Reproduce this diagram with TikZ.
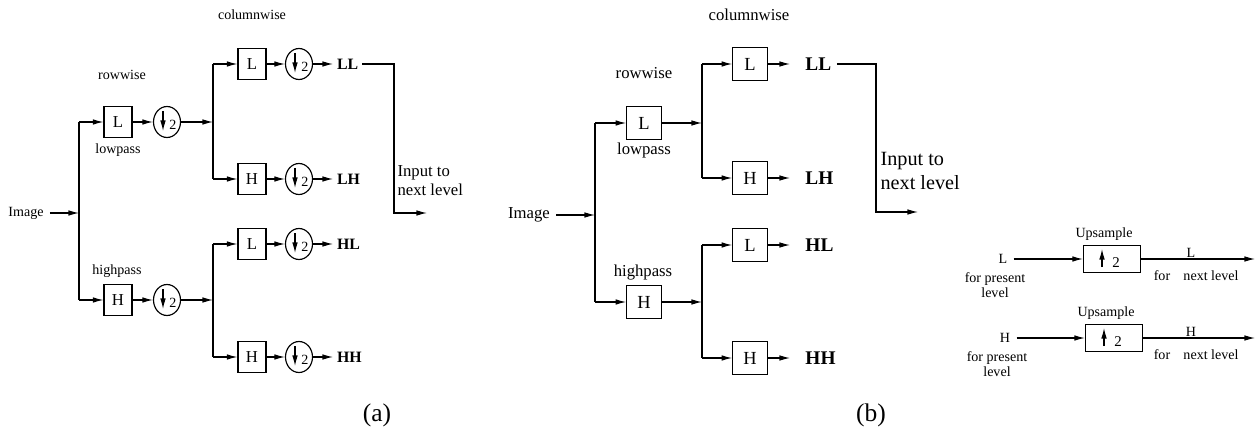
\documentclass[tikz,border=0pt]{standalone}
\usepackage{fontspec}
\setmainfont{Liberation Serif}
\usetikzlibrary{arrows.meta}
\usetikzlibrary{shapes.geometric}

\begin{document}
\begin{tikzpicture}[x=0.02cm,y=-0.02cm,line width=0.65pt,
  arr/.style={-{Latex[length=6pt,width=3.2pt]}},
  boxa/.style={draw,minimum width=0.56cm,minimum height=0.62cm,inner sep=0pt,font=\fontsize{9.5}{10}\selectfont},
  boxb/.style={draw,minimum width=0.69cm,minimum height=0.65cm,inner sep=0pt,font=\fontsize{10.5}{11}\selectfont},
  down/.style={draw,ellipse,minimum width=0.54cm,minimum height=0.62cm,inner sep=0pt},
  upbox/.style={draw,minimum width=1.14cm,minimum height=0.54cm,inner sep=0pt},
  txta/.style={font=\fontsize{8}{9}\selectfont},
  txtb/.style={font=\fontsize{9.5}{11}\selectfont},
  small/.style={font=\fontsize{8}{8.5}\selectfont},
  outa/.style={font=\fontsize{9}{10}\selectfont\bfseries,anchor=west,inner sep=2pt},
  outb/.style={font=\fontsize{11}{12}\selectfont\bfseries,anchor=west,inner sep=2.8pt},
  captxt/.style={font=\fontsize{14.5}{16}\selectfont}]

\useasboundingbox (0,0) rectangle (1255,439);

% (a)
\node[txta] (imgA) at (26,213) {Image};
\coordinate (jA) at (79,213);
\draw[arr] (imgA) -- (jA);
\foreach \Name/\Label/\Y in {La/L/122, Ha/H/300} {
    \node[boxa] (r\Name) at (118,\Y) {\Label};
    \node[down] (d\Name) at (167,\Y) {};
    \coordinate (s\Name) at (79,\Y);
    \coordinate (j\Name) at (213,\Y);
    \draw[arr] (s\Name) -- (r\Name);
    \draw[arr] (r\Name) -- (d\Name);
    \draw[arr] (d\Name) -- (j\Name);
}
\draw (sLa) -- (sHa);
\foreach \Name/\Label/\Out/\Y in {LLa/L/LL/64, LHa/H/LH/179, HLa/L/HL/244, HHa/H/HH/357} {
    \node[boxa] (c\Name) at (252,\Y) {\Label};
    \node[down] (e\Name) at (299,\Y) {};
    \node[outa] (o\Name) at (333,\Y) {\Out};
    \coordinate (t\Name) at (213,\Y);
    \draw[arr] (t\Name) -- (c\Name);
    \draw[arr] (c\Name) -- (e\Name);
    \draw[arr] (e\Name) -- (o\Name);
}
\draw (tLLa) -- (tLHa);
\draw (tHLa) -- (tHHa);
\foreach \Circ in {dLa, dHa, eLLa, eLHa, eHLa, eHHa} {
    \draw[arr] ([shift={(-4,-11)}]\Circ.center) -- ([shift={(-4,9)}]\Circ.center);
    \node[small,inner sep=0pt] at ([shift={(6,3)}]\Circ.center) {2};
}
\coordinate (nA2) at (394,213);
\coordinate (nA3) at (427,213);
\draw[arr] (oLLa.east) -| (nA2) -- (nA3);
\node[font=\fontsize{9.5}{10.8}\selectfont,align=left,anchor=north west,inner sep=0pt] (inA) at (397,165) {Input to\\next level};
\node[txta] (colA) at (252,15) {columnwise};
\node[txta] (rowA) at (122,75) {rowwise};
\node[txta] (lowA) at (118,150) {lowpass};
\node[txta] (highA) at (117,271) {highpass};
\node[captxt] (capA) at (377,415) {(a)};

% (b)
\node[txtb] (imgB) at (529,215) {Image};
\coordinate (jB) at (595,215);
\draw[arr] (imgB) -- (jB);
\foreach \Name/\Label/\Y in {Lb/L/123, Hb/H/302} {
    \node[boxb] (r\Name) at (644,\Y) {\Label};
    \coordinate (s\Name) at (595,\Y);
    \coordinate (j\Name) at (702,\Y);
    \draw[arr] (s\Name) -- (r\Name);
    \draw[arr] (r\Name) -- (j\Name);
}
\draw (sLb) -- (sHb);
\foreach \Name/\Label/\Out/\Y in {LLb/L/LL/64, LHb/H/LH/178, HLb/L/HL/245, HHb/H/HH/358} {
    \node[boxb] (c\Name) at (750,\Y) {\Label};
    \node[outb] (o\Name) at (800,\Y) {\Out};
    \coordinate (t\Name) at (702,\Y);
    \draw[arr] (t\Name) -- (c\Name);
    \draw[arr,shorten >=0.2cm] (c\Name) -- (o\Name);
}
\draw (tLLb) -- (tLHb);
\draw (tHLb) -- (tHHb);
\coordinate (nB2) at (876,212);
\coordinate (nB3) at (918,212);
\draw[arr] (oLLb.east) -| (nB2) -- (nB3);
\node[font=\fontsize{11.5}{13.6}\selectfont,align=left,anchor=north west,inner sep=0pt] (inB) at (880,152) {Input to\\next level};
\node[txtb] (colB) at (749,15) {columnwise};
\node[txtb] (rowB) at (644,73) {rowwise};
\node[txtb] (lowB) at (644,150) {lowpass};
\node[txtb] (highB) at (643,273) {highpass};
\node[captxt] (capB) at (871,415) {(b)};

% upsampling
\foreach \Name/\Y/\DX in {L/259/0, H/338/2} {
    \node[small] (in\Name) at (1003+\DX,\Y) {\Name};
    \node[small,align=center] (pr\Name) at (995+\DX,\Y+26) {for present\\level};
    \node[upbox] (up\Name) at (1112+\DX,\Y) {};
    \node[small] (us\Name) at (1104+\DX,\Y-25) {Upsample};
    \coordinate (ou\Name) at (1255,\Y);
    \draw[arr] (in\Name) -- (up\Name);
    \draw[arr] (up\Name) -- (ou\Name);
    \draw[arr] ([shift={(-10,8)}]up\Name.center) -- ([shift={(-10,-10)}]up\Name.center);
    \node[font=\fontsize{8.5}{9}\selectfont,inner sep=0pt] (tw\Name) at ([shift={(4,4)}]up\Name.center) {2};
    \node[small] (nl\Name) at (1191,\Y-6) {\Name};
    \node[small] (fo\Name) at (1162,\Y+17) {for};
    \node[small] (nx\Name) at (1211,\Y+17) {next level};
}
\end{tikzpicture}
\end{document}
